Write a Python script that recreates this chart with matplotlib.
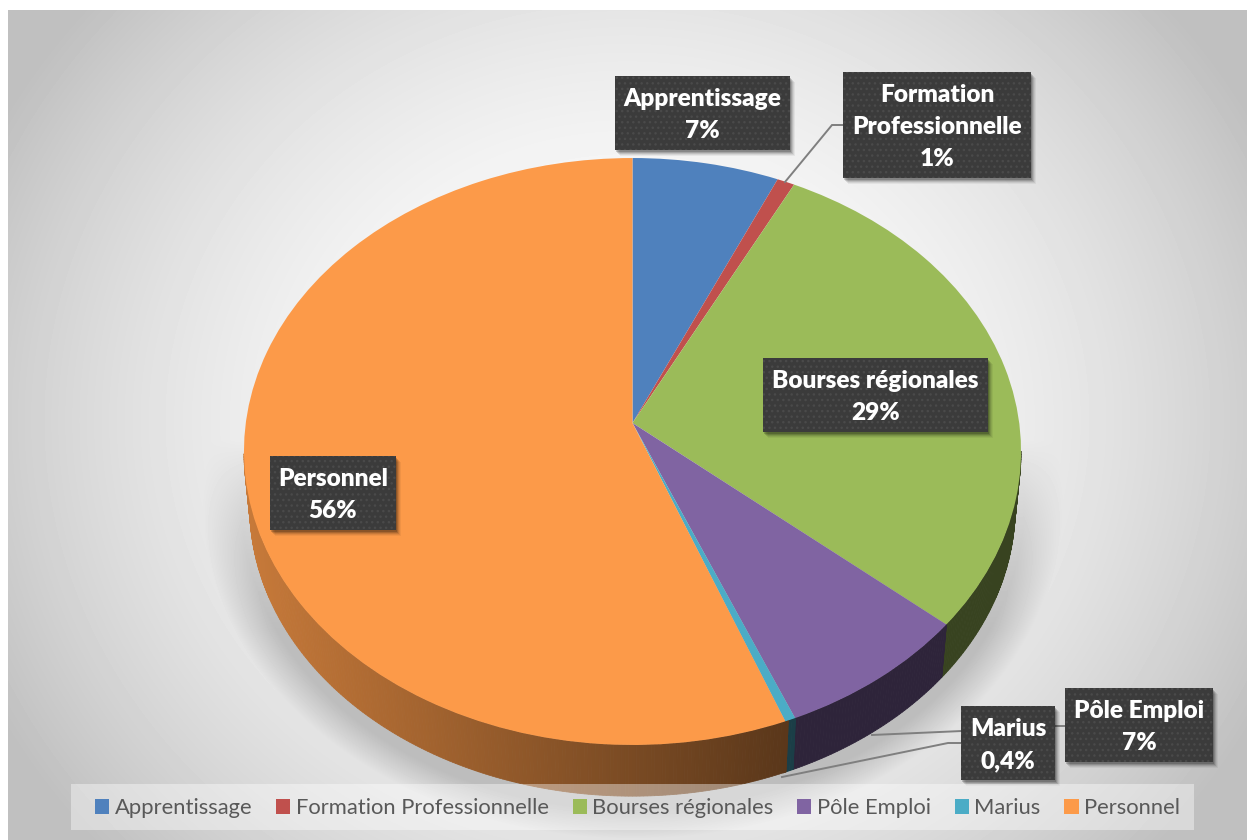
"""Camembert 3D des dépenses : tranches ax.pie projetées en perspective."""
import numpy as np
import matplotlib

matplotlib.use("Agg")
import matplotlib.pyplot as plt
from matplotlib.patches import Rectangle
from matplotlib.transforms import Transform

# données
categories = ["Apprentissage", "Formation Professionnelle", "Bourses régionales",
              "Pôle Emploi", "Marius", "Personnel"]
values = [6.7, 0.8, 28.75, 7.5, 0.4, 55.85]
pct_labels = ["7%", "1%", "29%", "7%", "0,4%", "56%"]
box_names = ["Apprentissage", "Formation\nProfessionnelle", "Bourses régionales",
             "Pôle Emploi", "Marius", "Personnel"]
colors = ["#4F81BD", "#C0504D", "#9BBB59", "#8064A2", "#4BACC6", "#FC9A49"]

W, H = 1247, 840
FONT = "Lato"
CX, CY = 632.5, 423
A, B, K = 386.7, 290.7, 0.0971
DEPTH, SHRINK = 56, 0.985


class PieProjection(Transform):
    """Disque unité -> ellipse en perspective (pixels)."""
    input_dims = output_dims = 2
    has_inverted = False

    def __init__(self, dy=0.0, scale=1.0):
        super().__init__()
        self.dy = dy
        self.scale = scale

    def transform_non_affine(self, xy):
        xy = np.asarray(xy, dtype=float)
        w = 1 + K * xy[:, 1]
        return np.column_stack([CX + self.scale * A * xy[:, 0] / w,
                                CY + self.dy - self.scale * B * xy[:, 1] / w])


def background():
    yy, xx = np.mgrid[0:H, 0:W]
    r = np.hypot((xx - 627) / 620, (yy - 420) / 560)
    img = np.maximum(0.75, 1 - 0.19 * r ** 2)
    # ombre portée sous le camembert
    rho = np.hypot((xx - CX) / 430, (yy - 504) / 335)
    fade = np.clip((1.0 - rho) / 0.09, 0, 1) ** 0.9
    fade *= np.clip((yy - 440) / 190, 0, 1) ** 0.8
    img = img * (1 - fade) + 0.74 * fade
    img = np.clip(img, 0, 1)
    img[:10, :] = 1
    img[:, :8] = 1
    return img


fig = plt.figure(figsize=(W / 100, H / 100), dpi=100, facecolor="white")
ax = fig.add_axes([0, 0, 1, 1])

wedges, _ = ax.pie(values, colors=colors, startangle=90, counterclock=False,
                   wedgeprops=dict(transform=PieProjection() + ax.transData, zorder=3))
ax.set_aspect("auto")
ax.axis("off")

ax.imshow(background(), cmap="gray", vmin=0, vmax=1, extent=(0, W, H, 0),
          aspect="auto", zorder=0, interpolation="bilinear")
ax.set_xlim(0, W)
ax.set_ylim(H, 0)

# paroi latérale : petits quadrilatères ombrés suivant x
top_proj = PieProjection()
bot_proj = PieProjection(DEPTH, SHRINK)
for wedge, col in zip(wedges, colors):
    th = np.radians(np.arange(wedge.theta1, wedge.theta2 + 0.5, 0.5))
    th = np.append(th, np.radians(wedge.theta2))
    disc = np.column_stack([np.cos(th), np.sin(th)])
    top = top_proj.transform(disc)
    bot = bot_proj.transform(disc)
    rgb = np.array(matplotlib.colors.to_rgb(col))
    for i in range(len(th) - 1):
        if np.sin(th[i]) > -0.1:
            continue
        x = top[i, 0]
        shade = np.clip(0.77 - (x - 270) * 0.0008, 0.36, 0.8)
        quad = np.array([top[i], top[i + 1], bot[i + 1], bot[i]])
        ax.fill(quad[:, 0], quad[:, 1], color=rgb * shade, lw=0.6, zorder=2)

# traits de rappel
leaders = [([785, 832, 843], [182, 125, 125]),
           ([872, 962], [735, 731]),
           ([1055, 1065], [726, 726]),
           ([782, 948, 962], [777, 743, 743])]
for lx, ly in leaders:
    ax.plot(lx, ly, color="#7f7f7f", lw=1.4, zorder=4, solid_joinstyle="miter")

# étiquettes
boxes = [(615, 76, 175, 74), (843, 72, 188, 106), (763, 358, 225, 74),
         (1065, 688, 148, 74), (961, 706, 94, 74), (270, 456, 126, 74)]
for (x, y, w, h), name, pct in zip(boxes, box_names, pct_labels):
    for off, al in [(6, 0.05), (5, 0.07), (4, 0.10), (3, 0.14), (2, 0.18)]:
        ax.add_patch(Rectangle((x + off - 1, y + off), w, h, fc="black", alpha=al,
                               lw=0, zorder=5))
    ax.add_patch(Rectangle((x, y), w, h, fc="#3b3b3b", ec="#4a4a4a", hatch="...",
                           lw=0, zorder=6))
    ax.text(x + w / 2, y + h / 2 + 2, f"{name}\n{pct}", ha="center", va="center",
            color="white", fontsize=17.6, fontweight="heavy", family=FONT,
            linespacing=1.55, zorder=7)

# légende
ax.add_patch(Rectangle((71, 784), 1123, 46, fc="white", alpha=0.4, lw=0, zorder=8))
leg = ax.legend(wedges, categories, loc="center left", bbox_to_anchor=(95 / W, 1 - 808 / H),
                bbox_transform=fig.transFigure, ncol=6, frameon=False, borderaxespad=0,
                borderpad=0, handlelength=0.65, handleheight=0.65, handletextpad=0.25,
                columnspacing=1.08, prop=dict(family=FONT, size=15.8))
for t in leg.get_texts():
    t.set_color("#595959")
leg.set_zorder(9)

fig.savefig("out.png", dpi=100)
